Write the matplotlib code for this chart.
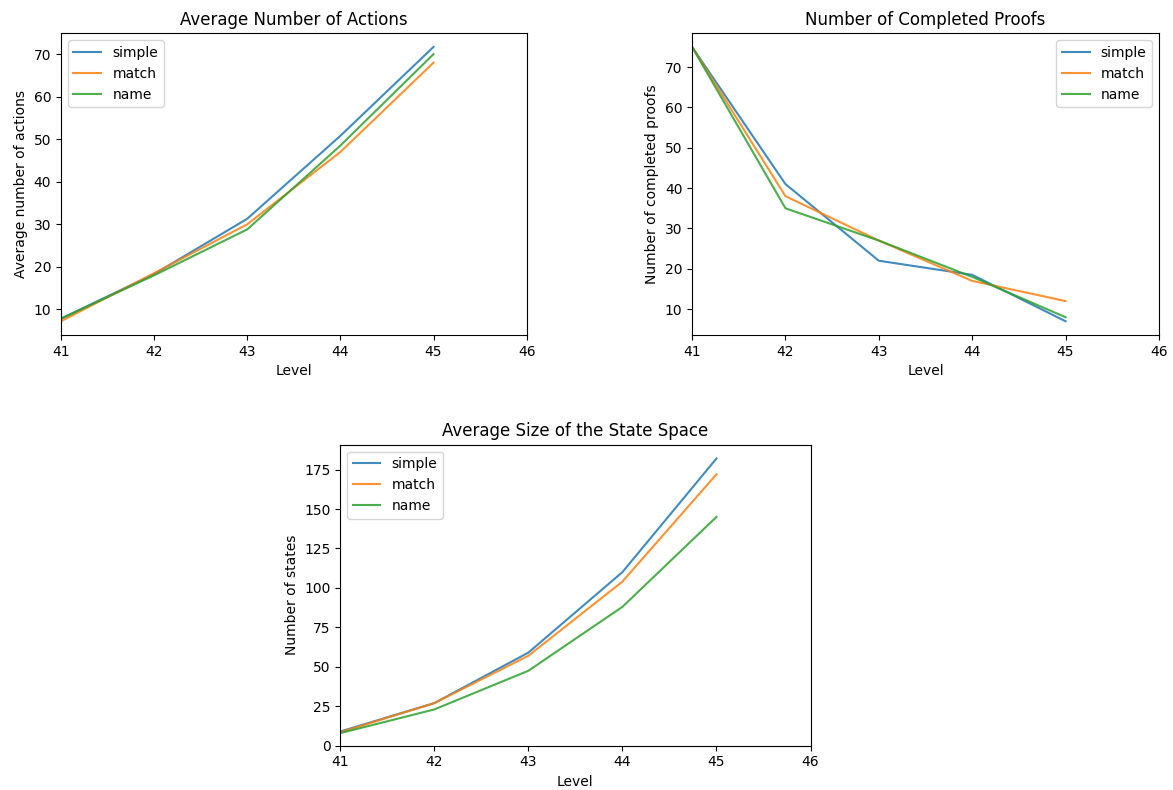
import matplotlib
matplotlib.use("Agg")
import matplotlib.pyplot as plt

levels = [41, 42, 43, 44, 45]
series_names = ["simple", "match", "name"]

# Average number of actions
actions_simple = [7.8, 18.3, 31.3, 50.8, 71.7]
actions_match = [7.2, 18.5, 30.0, 47.0, 68.0]
actions_name = [7.8, 18.0, 28.8, 48.5, 70.0]

# Number of completed proofs
proofs_simple = [75, 41, 22, 18.5, 7]
proofs_match = [75, 38, 27, 17, 12]
proofs_name = [75, 35, 27, 18, 8]

# Average size of the state space
states_simple = [9, 27, 59, 110, 182]
states_match = [8.5, 27, 57, 104, 172]
states_name = [8, 23, 47.5, 88, 145]

fig = plt.figure(figsize=(11.73, 7.90), dpi=100)
ax1 = fig.add_axes([0.052, 0.576, 0.397, 0.382])
ax2 = fig.add_axes([0.590, 0.576, 0.398, 0.382])
ax3 = fig.add_axes([0.290, 0.056, 0.401, 0.381])

panels = [
    (ax1, [actions_simple, actions_match, actions_name],
     "Average Number of Actions", "Average number of actions", "upper left"),
    (ax2, [proofs_simple, proofs_match, proofs_name],
     "Number of Completed Proofs", "Number of completed proofs", "upper right"),
    (ax3, [states_simple, states_match, states_name],
     "Average Size of the State Space", "Number of states", "upper left"),
]

for ax, data, title, ylabel, loc in panels:
    for name, vals in zip(series_names, data):
        ax.plot(levels, vals, label=name, linewidth=1.5, alpha=0.85)
    ax.set_xlim(41, 46)
    ax.set_xticks(range(41, 47))
    ax.set_title(title)
    ax.set_xlabel("Level")
    ax.set_ylabel(ylabel)
    ax.legend(loc=loc)

ax3.set_ylim(bottom=0)

fig.savefig("out.png", dpi=100)
